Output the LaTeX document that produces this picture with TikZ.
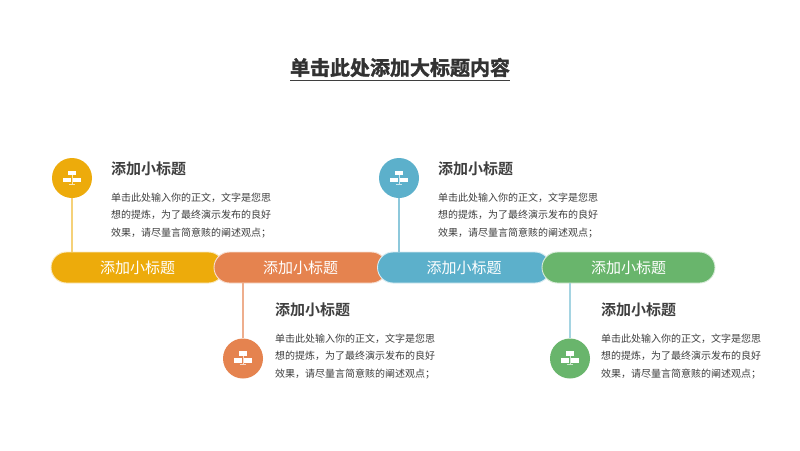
\documentclass[tikz,border=0pt]{standalone}
\usepackage{fontspec}
\setmainfont{Liberation Sans}
\newfontfamily\cjk{Noto Sans CJK SC}
\newfontfamily\cjkb{Noto Sans CJK SC Bold}
\newfontfamily\cjkt[FakeBold=1.6]{Noto Sans CJK SC Bold}
\usetikzlibrary{calc}
\definecolor{cy}{HTML}{EDAB0B}
\definecolor{co}{HTML}{E5834F}
\definecolor{cb}{HTML}{5CB0CB}
\definecolor{cg}{HTML}{69B56C}
\definecolor{ink}{HTML}{3F3F3F}
\tikzset{
  pill/.style={rectangle, draw=white!75!#1, line width=0.9pt, fill=#1, minimum width=173pt, minimum height=31pt, rounded corners=15.5pt, inner sep=0pt, text=white, font=\cjk\fontsize{15}{15}\selectfont},
  badge/.style={circle, fill=#1, minimum size=40pt, inner sep=0pt},
  stem/.style={line width=1.1pt, draw=#1},
  head/.style={anchor=west, text=ink, inner sep=0pt, font=\cjkb\fontsize{15}{15}\selectfont},
  body/.style={anchor=north west, align=left, text=ink, inner sep=0pt, font=\cjk\fontsize{10}{17.8}\selectfont}
}
\newcommand{\netico}[1]{%
  \fill[white] ($(#1)+(-3.8,-7.3)$) rectangle ($(#1)+(4,-3)$);
  \fill[white] ($(#1)+(-9.3,-0.3)$) rectangle ($(#1)+(-1.3,4.3)$);
  \fill[white] ($(#1)+(0.7,-0.3)$) rectangle ($(#1)+(8.7,4.3)$);
  \draw[white,opacity=.7,line width=0.4pt] ($(#1)+(-0.3,-3)$) -- ($(#1)+(-0.3,5.8)$) ($(#1)+(-3.3,5.8)$) -- ($(#1)+(2.7,5.8)$);
}
\newcommand{\bodytext}{单击此处输入你的正文，文字是您思\\想的提炼，为了最终演示发布的良好\\效果，请尽量言简意赅的阐述观点；}
\begin{document}
\begin{tikzpicture}[x=1pt,y=-1pt]
\useasboundingbox (0,0) rectangle (800,450);
\fill[white] (0,0) rectangle (800,450);
% title
\node[text=ink!80!black, inner sep=0pt, font=\cjkt\fontsize{20}{20}\selectfont] (title) at (400,67.5) {单击此处添加大标题内容};
\coordinate (ula) at (290,80); \coordinate (ulb) at (510,80);
\draw[ink, line width=0.8pt] (ula) -- (ulb);
% pills
\node[pill=cy] (p1) at (137.5,267.5) {添加小标题};
\node[pill=co] (p2) at (300.5,267.5) {添加小标题};
\node[pill=cb] (p3) at (464,267.5) {添加小标题};
\node[pill=cg] (p4) at (628.5,267.5) {添加小标题};
% badges
\node[badge=cy] (c1) at (72,178) {};
\node[badge=co] (c2) at (243,358.5) {};
\node[badge=cb] (c3) at (399,178) {};
\node[badge=cg] (c4) at (570,358.5) {};
% stems
\draw[stem=cy!55!white] (c1.south) -- (c1.south |- p1.north);
\draw[stem=co!65!white] (c2.north) -- (c2.north |- p2.south);
\draw[stem=cb!70!white] (c3.south) -- (c3.south |- p3.north);
\draw[stem=cb!55!white] (c4.north) -- (c4.north |- p4.south);
% icons
\netico{c1} \netico{c2} \netico{c3} \netico{c4}
% texts
\node[head] (h1) at (111,168.5) {添加小标题};
\node[body] (b1) at (111,192.5) {\bodytext};
\node[head] (h2) at (275,309.5) {添加小标题};
\node[body] (b2) at (275,333.5) {\bodytext};
\node[head] (h3) at (438,168.5) {添加小标题};
\node[body] (b3) at (438,192.5) {\bodytext};
\node[head] (h4) at (601,309.5) {添加小标题};
\node[body] (b4) at (601,333.5) {\bodytext};
\end{tikzpicture}
\end{document}
